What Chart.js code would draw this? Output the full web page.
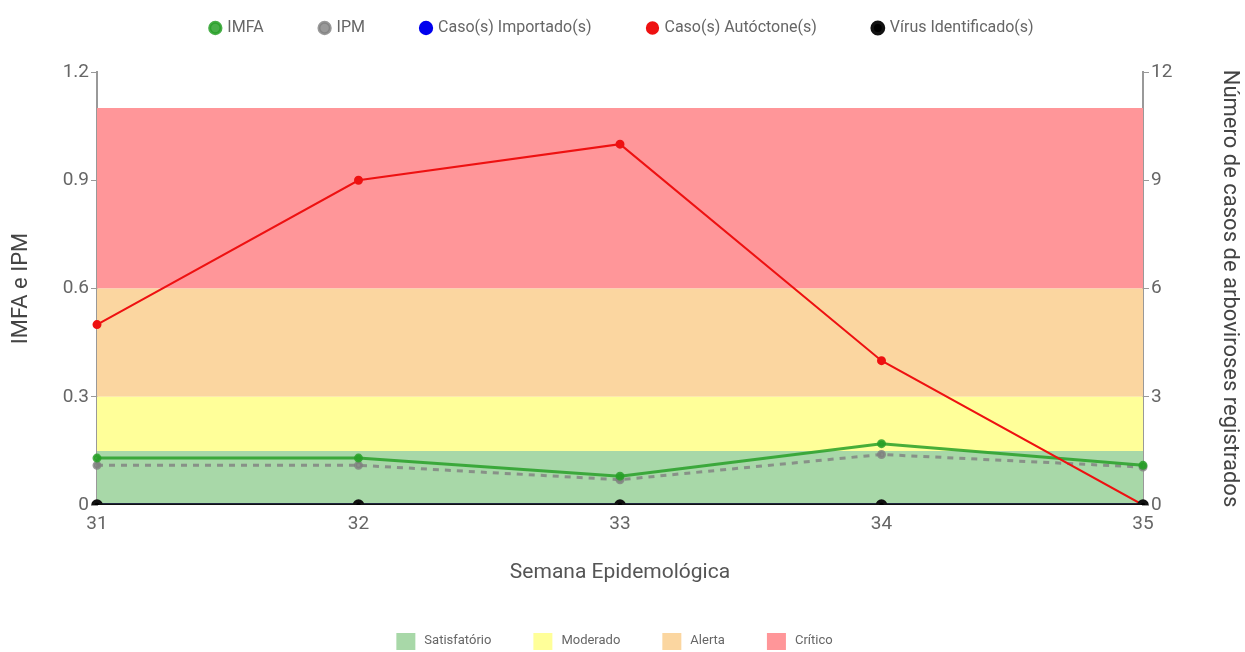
<!DOCTYPE html>
<html>
<head>
<meta charset="utf-8">
<title>IMFA e IPM</title>
<script src="https://cdn.jsdelivr.net/npm/chart.js@4.4.0/dist/chart.umd.min.js"></script>
<style>
  html, body { margin: 0; padding: 0; background: #fff; }
  #chartBox { width: 1245px; height: 652px; position: relative; }
</style>
</head>
<body>
<div id="chartBox"><canvas id="myChart"></canvas></div>
<script>
'use strict';

//Global data
var semanas = ['31', '32', '33', '34', '35'];
var imfa = [0.13, 0.13, 0.08, 0.17, 0.11];
var ipm = [0.11, 0.11, 0.07, 0.14, 0.105];
var casosImportados = [0, 0, 0, 0, 0];
var casosAutoctones = [5, 9, 10, 4, 0];
var virusIdentificados = [0, 0, 0, 0, 0];

// band limits (IMFA scale)
var faixaNomes = ['Satisfatório', 'Moderado', 'Alerta', 'Crítico'];
var faixaLimites = [0.15, 0.3, 0.6, 1.1];
var faixaCores = ['rgb(168,216,168)', 'rgb(255,255,153)', 'rgb(251,214,160)', 'rgb(255,150,153)'];

var leftTicks = [0, 0.3, 0.6, 0.9, 1.2];
var rightTicks = [0, 3, 6, 9, 12];

var fontFamily = 'Roboto, "Noto Sans", sans-serif';
Chart.defaults.font.family = fontFamily;
Chart.defaults.color = '#666';

//one flat line per band, filled down to the band below
function bandDatasets() {
  var sets = [];
  for (var i = 0; i < faixaLimites.length; i++) {
    var values = [];
    for (var j = 0; j < semanas.length; j++) {
      values.push(faixaLimites[i]);
    }
    sets.push({
      label: faixaNomes[i],
      band: true,
      data: values,
      yAxisID: 'y',
      borderWidth: 0,
      borderColor: faixaCores[i],
      backgroundColor: faixaCores[i],
      pointRadius: 0,
      pointHoverRadius: 0,
      fill: i === 0 ? 'origin' : '-1',
      order: 20
    });
  }
  return sets;
}

//extra room between the top legend and the plot
var legendGap = {
  id: 'legendGap',
  beforeInit: function(chart) {
    var oldFit = chart.legend.fit;
    chart.legend.fit = function() {
      oldFit.bind(chart.legend)();
      this.height += 26;
    };
  }
};

//second legend under the x title
var bandLegend = {
  id: 'bandLegend',
  afterDraw: function(chart) {
    var ctx = chart.ctx;
    var y = 641;
    var box = 19;
    var gap = 9;
    var spacing = 42;
    ctx.save();
    ctx.font = '13px ' + fontFamily;
    var total = 0;
    for (var i = 0; i < faixaNomes.length; i++) {
      total += box + gap + ctx.measureText(faixaNomes[i]).width;
      if (i < faixaNomes.length - 1) {
        total += spacing;
      }
    }
    var x = (chart.width - total) / 2 - 8;
    ctx.textBaseline = 'middle';
    for (var k = 0; k < faixaNomes.length; k++) {
      ctx.fillStyle = faixaCores[k];
      ctx.fillRect(x, y - 8, box, 17);
      x += box + gap;
      ctx.fillStyle = '#666';
      ctx.fillText(faixaNomes[k], x, y);
      x += ctx.measureText(faixaNomes[k]).width + spacing;
    }
    ctx.restore();
  }
};

function makeChart() {
  var ctx = document.getElementById('myChart').getContext('2d');
  var lineSets = [
    {
      label: 'IMFA',
      data: imfa,
      yAxisID: 'y',
      borderColor: 'rgba(40,160,40,0.85)',
      backgroundColor: 'rgba(40,160,40,0.85)',
      borderWidth: 3,
      pointRadius: 3,
      fill: false,
      order: 2
    },
    {
      label: 'IPM',
      data: ipm,
      yAxisID: 'y',
      borderColor: 'rgba(128,128,128,0.8)',
      backgroundColor: 'rgba(128,128,128,0.8)',
      borderWidth: 3,
      borderDash: [6, 6],
      pointRadius: 3,
      fill: false,
      order: 3
    },
    {
      label: 'Caso(s) Importado(s)',
      data: casosImportados,
      yAxisID: 'y1',
      borderColor: '#0000ee',
      backgroundColor: '#0000ee',
      borderWidth: 3,
      pointRadius: 3,
      fill: false,
      order: 4
    },
    {
      label: 'Caso(s) Autóctone(s)',
      data: casosAutoctones,
      yAxisID: 'y1',
      borderColor: '#ee1111',
      backgroundColor: '#ee1111',
      borderWidth: 2,
      pointRadius: 3.5,
      fill: false,
      order: 1
    },
    {
      label: 'Vírus Identificado(s)',
      data: virusIdentificados,
      yAxisID: 'y1',
      borderColor: '#111',
      backgroundColor: '#000',
      borderWidth: 3.5,
      pointRadius: 4,
      fill: false,
      order: 0
    }
  ];

  var chart = new Chart(ctx, {
    type: 'line',
    data: {
      labels: semanas,
      datasets: lineSets.concat(bandDatasets())
    },
    options: {
      responsive: true,
      maintainAspectRatio: false,
      animation: false,
      elements: { line: { tension: 0 } },
      layout: { padding: { top: -37, left: 0, right: 0, bottom: 40 } },
      plugins: {
        legend: {
          position: 'top',
          labels: {
            usePointStyle: true,
            pointStyle: 'circle',
            boxWidth: 8,
            boxHeight: 8,
            padding: 57,
            font: { size: 16 },
            filter: function(item, data) {
              return !data.datasets[item.datasetIndex].band;
            },
            sort: function(a, b) {
              return a.datasetIndex - b.datasetIndex;
            }
          }
        },
        tooltip: { enabled: false }
      },
      scales: {
        x: {
          offset: false,
          grid: { display: false },
          border: { display: false },
          ticks: { font: { size: 19 }, padding: 0 },
          afterFit: function(s) { s.height = 107; },
          title: {
            display: true,
            text: 'Semana Epidemológica',
            font: { size: 21 },
            color: '#555',
            padding: { top: 0, bottom: 27 }
          }
        },
        y: {
          position: 'left',
          min: 0,
          max: 1.2,
          afterBuildTicks: function(axis) {
            axis.ticks = leftTicks.map(function(v) { return { value: v }; });
          },
          afterFit: function(s) { s.width = 97; },
          grid: { drawOnChartArea: false, tickLength: 6, color: '#999' },
          border: { display: true, color: '#999', width: 2 },
          ticks: {
            font: { size: 19 },
            padding: 2,
            callback: function(v) { return v === 0 ? '0' : v.toFixed(1); }
          },
          title: {
            display: true,
            text: 'IMFA e IPM',
            font: { size: 22 },
            color: '#444',
            padding: { top: 8, bottom: 0 }
          }
        },
        y1: {
          position: 'right',
          min: 0,
          max: 12,
          afterBuildTicks: function(axis) {
            axis.ticks = rightTicks.map(function(v) { return { value: v }; });
          },
          afterFit: function(s) { s.width = 102; },
          grid: { drawOnChartArea: false, tickLength: 6, color: '#999' },
          border: { display: true, color: '#999', width: 2 },
          ticks: { font: { size: 19 }, padding: 2 },
          title: {
            display: true,
            text: 'Número de casos de arboviroses registrados',
            font: { size: 22 },
            color: '#444',
            padding: { top: 2, bottom: 0 }
          }
        }
      }
    },
    plugins: [legendGap, bandLegend]
  });
  return chart;
}

makeChart();
</script>
</body>
</html>
